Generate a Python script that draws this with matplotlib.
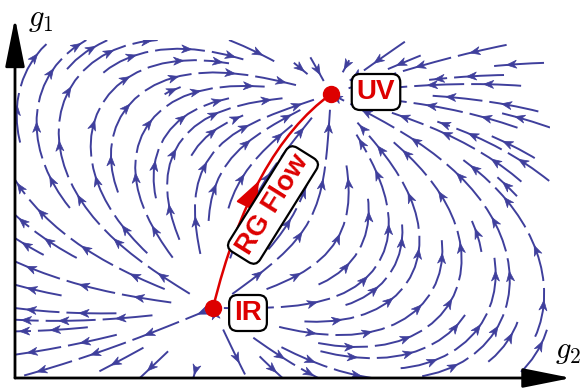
import numpy as np
import matplotlib.pyplot as plt
from matplotlib.path import Path
from matplotlib.patches import PathPatch
from matplotlib.collections import LineCollection, PolyCollection

plt.rcParams['mathtext.fontset'] = 'cm'

# plane of couplings (g2, g1), units of 100 px so circles stay round
g2_lim = (0.0, 5.35)
g1_lim = (0.0, 3.38)

# fixed points: IR is the source, UV the sink
ir_point = (1.98, 0.70)
uv_point = (3.16, 2.84)

# control point of the highlighted RG trajectory (quadratic bezier)
rg_ctrl = (2.36, 2.26)

flow_color = '#3f3f9c'
red = '#dd0000'

fig = plt.figure(figsize=(5.85, 3.88), dpi=100)
ax = fig.add_axes([15/585, 10/388, 535/585, 338/388])

g2 = np.linspace(*g2_lim, 220)
g1 = np.linspace(*g1_lim, 140)
G2, G1 = np.meshgrid(g2, g1)

# radial push out of IR and pull into UV, each fading with distance
dx1, dy1 = G2 - ir_point[0], G1 - ir_point[1]
dx2, dy2 = G2 - uv_point[0], G1 - uv_point[1]
d1 = np.hypot(dx1, dy1)
d2 = np.hypot(dx2, dy2)
U = dx1/d1**3.5 - dx2/d2**3.5
V = dy1/d1**3.5 - dy2/d2**3.5

# let streamplot find the lines, then redraw them as dashed pieces with arrows
sp = ax.streamplot(G2, G1, U, V, density=(1.05, 1.0), arrowstyle='-')
lines = [np.asarray(s) for s in sp.lines.get_segments()]
sp.lines.remove()
for p in list(ax.patches):
    p.remove()

piece, gap = 0.50, 0.07
head_len, head_w = 0.10, 0.04
pieces, heads = [], []
for k, pts in enumerate(lines):
    d = np.r_[0, np.cumsum(np.hypot(*np.diff(pts, axis=0).T))]
    if d[-1] < 0.12:
        continue
    start = max((k * 0.17) % (piece + gap) - gap, 0.0)
    while start < d[-1] - 0.1:
        end = min(start + piece, d[-1])
        ss = np.linspace(start, end, max(int((end - start) / 0.01), 2))
        xy = np.c_[np.interp(ss, d, pts[:, 0]), np.interp(ss, d, pts[:, 1])]
        pieces.append(xy)
        i = int(0.75 * (len(xy) - 1))
        tip = xy[i]
        dirv = xy[i] - xy[i - 1]
        dirv = dirv / np.hypot(*dirv)
        nrm = np.array([-dirv[1], dirv[0]])
        base = tip - head_len * dirv
        heads.append([tip, base + head_w * nrm, tip - 0.7 * head_len * dirv, base - head_w * nrm])
        start = end + gap

ax.add_collection(LineCollection(pieces, colors=flow_color, linewidths=1.4, capstyle='butt'))
ax.add_collection(PolyCollection(heads, facecolors=flow_color, edgecolors=flow_color, linewidths=0.5))

# highlighted RG trajectory
verts = [ir_point, rg_ctrl, uv_point]
path = Path(verts, [Path.MOVETO, Path.CURVE3, Path.CURVE3])
ax.add_patch(PathPatch(path, fc='none', ec=red, lw=1.8, zorder=4))

t = 0.44
p0, c, p2 = map(np.array, verts)
pos = (1-t)**2*p0 + 2*t*(1-t)*c + t**2*p2
tan = 2*(1-t)*(c - p0) + 2*t*(p2 - c)
tan = tan / np.hypot(*tan)
ax.annotate('', xy=pos + 0.1*tan, xytext=pos - 0.05*tan,
            arrowprops=dict(arrowstyle='-|>,head_length=0.9,head_width=0.35',
                            color=red, lw=1.5, mutation_scale=20, shrinkA=0, shrinkB=0), zorder=5)

ax.plot(*ir_point, 'o', color=red, ms=11.5, zorder=6)
ax.plot(*uv_point, 'o', color=red, ms=11.5, zorder=6)

box = dict(boxstyle='round,pad=0.18,rounding_size=0.3', fc='white', ec='black', lw=1.6)
font = dict(family='Liberation Sans', weight='bold', color=red, fontsize=20, zorder=7)
ax.text(ir_point[0] + 0.35, ir_point[1] - 0.05, 'IR', ha='center', va='center', bbox=box, **font)
ax.text(uv_point[0] + 0.45, uv_point[1] + 0.02, 'UV', ha='center', va='center', bbox=box, **font)
ax.text(2.58, 1.73, 'RG Flow', ha='center', va='center', rotation=58,
        rotation_mode='anchor', bbox=box, **font)

ax.set_xlim(*g2_lim)
ax.set_ylim(*g1_lim)
for s in ax.spines.values():
    s.set_visible(False)
ax.set_xticks([])
ax.set_yticks([])

arrow = dict(arrowstyle='-|>,head_length=1.5,head_width=0.3', color='black',
             lw=2, mutation_scale=20, shrinkA=0, shrinkB=0)
ax.annotate('', xy=(1.04, 0), xytext=(0, 0), xycoords='axes fraction', arrowprops=arrow)
ax.annotate('', xy=(0, 1.065), xytext=(0, 0), xycoords='axes fraction', arrowprops=arrow)

fig.text(41/585, 1 - 20/388, r'$g_1$', fontsize=22, ha='center', va='center')
fig.text(568/585, 1 - 352/388, r'$g_2$', fontsize=22, ha='center', va='center')

fig.savefig('out.png', dpi=100)
